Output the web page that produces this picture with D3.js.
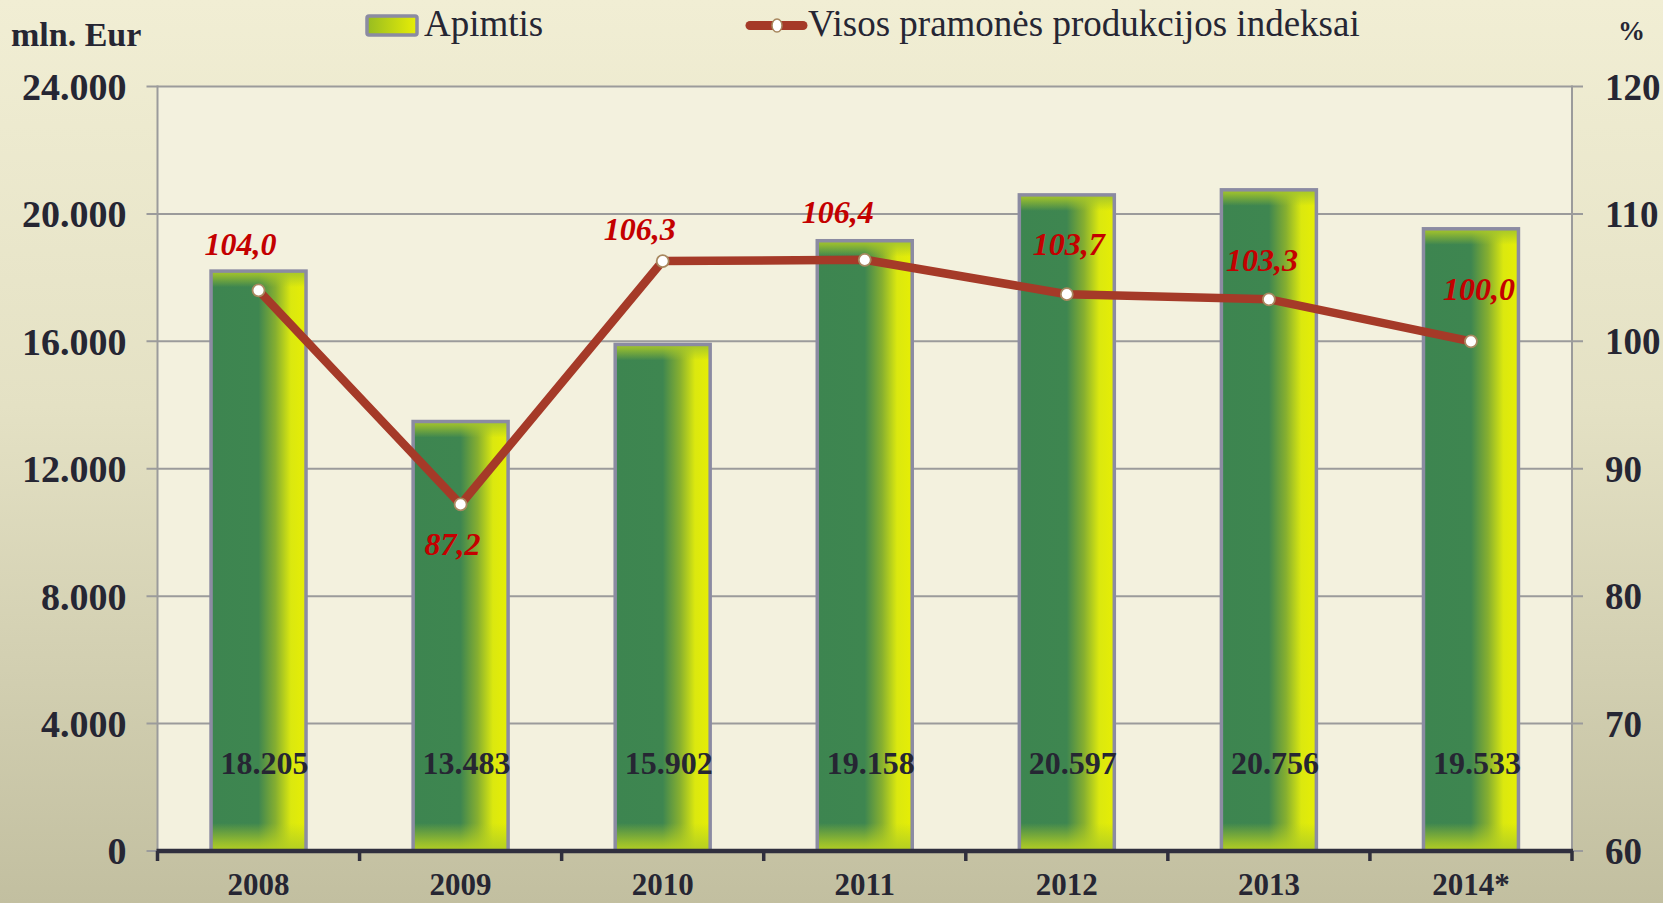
<!DOCTYPE html>
<html>
<head>
<meta charset="utf-8">
<script src="https://cdn.jsdelivr.net/npm/d3@7/dist/d3.min.js"></script>
<style>
  html, body { margin: 0; padding: 0; background: #e6e3c6; }
  svg { display: block; }
  text { font-family: "Liberation Serif", "Times New Roman", serif; }
</style>
</head>
<body>
<svg id="chart" width="1663" height="903"></svg>
<script>
// ---- data ----
const years = ["2008", "2009", "2010", "2011", "2012", "2013", "2014*"];
const volume = [18205, 13483, 15902, 19158, 20597, 20756, 19533];
const indexValues = [104.0, 87.2, 106.3, 106.4, 103.7, 103.3, 100.0];
const leftTicks = [0, 4000, 8000, 12000, 16000, 20000, 24000];
const rightTicks = [60, 70, 80, 90, 100, 110, 120];
const seriesNames = ["Apimtis", "Visos pramonės produkcijos indeksai"];
const leftUnit = "mln. Eur";
const rightUnit = "%";
// label nudges (dx, dy) for the index annotations
const indexLabelNudge = [[-18, -35], [-8, 51], [-23, -21], [-27, -37], [2, -39], [-7, -28], [8, -41]];

// ---- setup ----
const W = 1663, H = 903;
const plot = { left: 157.5, right: 1572, top: 86.5, bottom: 851 };
const svg = d3.select("#chart");
const defs = svg.append("defs");

const lt = d3.formatLocale({ decimal: ",", thousands: ".", grouping: [3], currency: ["", ""] });
const fmtThousands = lt.format(",d");
const fmtIndex = lt.format(".1f");

// gradients
const bg = defs.append("linearGradient").attr("id", "bgGrad").attr("x1", 0).attr("y1", 0).attr("x2", 0).attr("y2", 1);
[[0, "#f1eed4"], [0.45, "#e4e1c4"], [1, "#c2bfa0"]].forEach(([o, c]) => bg.append("stop").attr("offset", o).attr("stop-color", c));

const bh = defs.append("linearGradient").attr("id", "barH").attr("x1", 0).attr("y1", 0).attr("x2", 1).attr("y2", 0);
[[0, "#3d8550"], [0.5, "#3e8650"], [0.68, "#86af30"], [0.84, "#dbe80f"], [1, "#e6ee05"]].forEach(([o, c]) => bh.append("stop").attr("offset", o).attr("stop-color", c));

const bt = defs.append("linearGradient").attr("id", "barTop").attr("x1", 0).attr("y1", 0).attr("x2", 0).attr("y2", 1);
bt.append("stop").attr("offset", 0).attr("stop-color", "#a6c62a").attr("stop-opacity", 1);
bt.append("stop").attr("offset", 0.25).attr("stop-color", "#a6c62a").attr("stop-opacity", 0.8);
bt.append("stop").attr("offset", 1).attr("stop-color", "#a6c62a").attr("stop-opacity", 0);

const bb = defs.append("linearGradient").attr("id", "barBot").attr("x1", 0).attr("y1", 0).attr("x2", 0).attr("y2", 1);
bb.append("stop").attr("offset", 0).attr("stop-color", "#b4cf22").attr("stop-opacity", 0);
bb.append("stop").attr("offset", 0.7).attr("stop-color", "#b4cf22").attr("stop-opacity", 0.75);
bb.append("stop").attr("offset", 1).attr("stop-color", "#b4cf22").attr("stop-opacity", 1);

const lg = defs.append("linearGradient").attr("id", "legGrad").attr("x1", 0).attr("y1", 0).attr("x2", 1).attr("y2", 0);
lg.append("stop").attr("offset", 0).attr("stop-color", "#97bc22");
lg.append("stop").attr("offset", 1).attr("stop-color", "#e8ee05");

// background
svg.append("rect").attr("width", W).attr("height", H).attr("fill", "url(#bgGrad)");
svg.append("rect").attr("x", plot.left).attr("y", plot.top)
  .attr("width", plot.right - plot.left).attr("height", plot.bottom - plot.top)
  .attr("fill", "#f3f1de");

// scales
const x = d3.scaleBand().domain(years).range([plot.left, plot.right]).paddingInner(0.53).paddingOuter(0.265);
const yL = d3.scaleLinear().domain([0, 24000]).range([plot.bottom, plot.top]);
const yR = d3.scaleLinear().domain([60, 120]).range([plot.bottom, plot.top]);
const cx = d => x(d) + x.bandwidth() / 2;

const gridColor = "#9b9b9b";
const textColor = "#262633";

// gridlines
svg.append("g").selectAll("line").data(leftTicks).join("line")
  .attr("x1", plot.left - 11).attr("x2", plot.right + 11)
  .attr("y1", d => yL(d)).attr("y2", d => yL(d))
  .attr("stroke", gridColor).attr("stroke-width", 2);

// left and right frame lines
svg.append("line").attr("x1", plot.left).attr("x2", plot.left).attr("y1", plot.top - 1).attr("y2", plot.bottom)
  .attr("stroke", gridColor).attr("stroke-width", 2);
svg.append("line").attr("x1", plot.right).attr("x2", plot.right).attr("y1", plot.top - 1).attr("y2", plot.bottom)
  .attr("stroke", gridColor).attr("stroke-width", 2);

// left axis labels
const leftAxis = d3.axisLeft(yL).tickValues(leftTicks).tickFormat(d => fmtThousands(d)).tickSize(0).tickPadding(31);
const gL = svg.append("g").attr("transform", `translate(${plot.left},0)`).call(leftAxis);
gL.select(".domain").remove();
gL.selectAll("text").attr("font-size", 38).attr("font-weight", "bold").attr("fill", textColor)
  .attr("font-family", "Liberation Serif, Times New Roman, serif").attr("dy", "0.34em");

// right axis labels
const rightAxis = d3.axisRight(yR).tickValues(rightTicks).tickFormat(d => d).tickSize(0).tickPadding(33);
const gR = svg.append("g").attr("transform", `translate(${plot.right},0)`).call(rightAxis);
gR.select(".domain").remove();
gR.selectAll("text").attr("font-size", 37).attr("font-weight", "bold").attr("fill", textColor)
  .attr("font-family", "Liberation Serif, Times New Roman, serif").attr("dy", "0.34em");

// bars
const bars = svg.append("g").selectAll("g").data(years.map((y, i) => ({ y, v: volume[i] }))).join("g");
bars.append("rect")
  .attr("x", d => x(d.y)).attr("y", d => yL(d.v))
  .attr("width", x.bandwidth()).attr("height", d => yL(0) - yL(d.v))
  .attr("fill", "url(#barH)");
bars.append("rect")
  .attr("x", d => x(d.y)).attr("y", d => yL(d.v))
  .attr("width", x.bandwidth()).attr("height", 16)
  .attr("fill", "url(#barTop)");
bars.append("rect")
  .attr("x", d => x(d.y)).attr("y", yL(0) - 28)
  .attr("width", x.bandwidth()).attr("height", 28)
  .attr("fill", "url(#barBot)");
bars.append("rect")
  .attr("x", d => x(d.y)).attr("y", d => yL(d.v))
  .attr("width", x.bandwidth()).attr("height", d => yL(0) - yL(d.v))
  .attr("fill", "none").attr("stroke", "#8b8ba2").attr("stroke-width", 3.5);
bars.append("text")
  .attr("x", d => cx(d.y) + 6).attr("y", yL(0) - 77)
  .attr("text-anchor", "middle").attr("font-size", 32).attr("font-weight", "bold").attr("fill", textColor)
  .text(d => fmtThousands(d.v));

// bottom axis
svg.append("line").attr("x1", plot.left - 1).attr("x2", plot.right + 1)
  .attr("y1", plot.bottom).attr("y2", plot.bottom)
  .attr("stroke", "#2f2f3d").attr("stroke-width", 4.5);
const boundaries = d3.range(years.length + 1).map(i => plot.left + i * ((plot.right - plot.left) / years.length));
svg.append("g").selectAll("line").data(boundaries).join("line")
  .attr("x1", d => d).attr("x2", d => d)
  .attr("y1", plot.bottom).attr("y2", plot.bottom + 10)
  .attr("stroke", "#2f2f3d").attr("stroke-width", 3.5);
svg.append("g").selectAll("text").data(years).join("text")
  .attr("x", d => cx(d)).attr("y", 895)
  .attr("text-anchor", "middle").attr("font-size", 31).attr("font-weight", "bold").attr("fill", textColor)
  .text(d => d);

// index line
const pts = years.map((y, i) => ({ y, v: indexValues[i], i }));
const line = d3.line().x(d => cx(d.y)).y(d => yR(d.v));
svg.append("path").datum(pts).attr("d", line)
  .attr("fill", "none").attr("stroke", "#a53a28").attr("stroke-width", 8.5)
  .attr("stroke-linejoin", "round").attr("stroke-linecap", "round");
svg.append("g").selectAll("circle").data(pts).join("circle")
  .attr("cx", d => cx(d.y)).attr("cy", d => yR(d.v)).attr("r", 6)
  .attr("fill", "#ffffff").attr("stroke", "#a8885f").attr("stroke-width", 1.8);
svg.append("g").selectAll("text").data(pts).join("text")
  .attr("x", d => cx(d.y) + indexLabelNudge[d.i][0])
  .attr("y", d => yR(d.v) + indexLabelNudge[d.i][1])
  .attr("text-anchor", "middle").attr("font-size", 32).attr("font-weight", "bold").attr("font-style", "italic")
  .attr("fill", "#c40000")
  .text(d => fmtIndex(d.v));

// units
svg.append("text").attr("x", 11).attr("y", 46).attr("font-size", 34).attr("font-weight", "bold").attr("fill", textColor).text(leftUnit);
svg.append("text").attr("x", 1618).attr("y", 40).attr("font-size", 27).attr("font-weight", "bold").attr("fill", textColor).text(rightUnit);

// legend
svg.append("rect").attr("x", 367).attr("y", 16).attr("width", 50).attr("height", 19).attr("rx", 2)
  .attr("fill", "url(#legGrad)").attr("stroke", "#8b8ba2").attr("stroke-width", 3.5);
svg.append("text").attr("x", 424).attr("y", 36).attr("font-size", 37).attr("fill", textColor).text(seriesNames[0]);
svg.append("line").attr("x1", 750).attr("x2", 803).attr("y1", 25.5).attr("y2", 25.5)
  .attr("stroke", "#a53a28").attr("stroke-width", 9).attr("stroke-linecap", "round");
svg.append("ellipse").attr("cx", 777).attr("cy", 25.5).attr("rx", 5).attr("ry", 6.5)
  .attr("fill", "#ffffff").attr("stroke", "#a8885f").attr("stroke-width", 1.5);
svg.append("text").attr("x", 808).attr("y", 36).attr("font-size", 37).attr("fill", textColor).text(seriesNames[1]);
</script>
</body>
</html>
